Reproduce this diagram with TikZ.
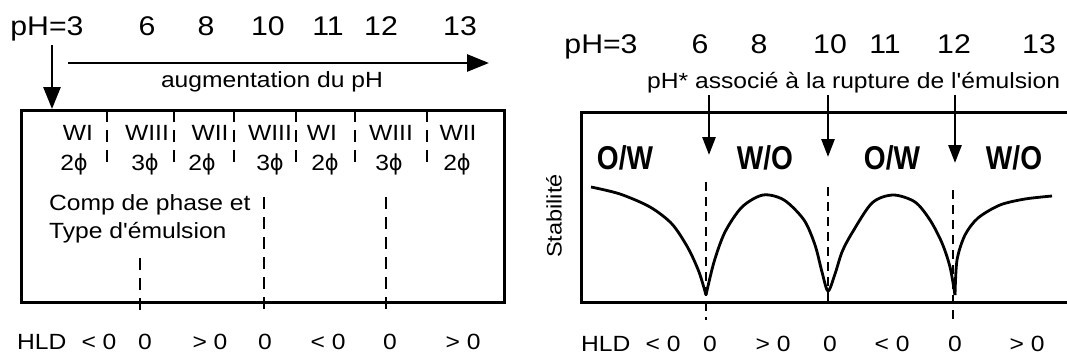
\documentclass[tikz,border=0pt]{standalone}
\usepackage{fontspec}
\newfontfamily\arialfont{Liberation Sans}[FakeStretch=1.12]
\newfontfamily\typefont{Liberation Sans}[FakeStretch=0.85]
\newfontfamily\grecfont{DejaVu Sans}[FakeStretch=0.95]
\usetikzlibrary{arrows.meta}

\tikzset{
    lbl/.style={inner sep=0pt, anchor=base, font=\arialfont\fontsize{22}{24}\selectfont},
    num/.style={inner sep=0pt, anchor=base, font=\arialfont\fontsize{27}{30}\selectfont},
    emu/.style={inner sep=0pt, anchor=base, font=\typefont\bfseries\fontsize{33}{36}\selectfont},
    cadre/.style={line width=3pt},
    sep/.style={line width=2.8pt, dash pattern=on 12pt off 8pt},
    fleche/.style={line width=2.8pt, -{Triangle[length=22pt,width=17pt]}},
    flechette/.style={line width=2.8pt, -{Triangle[length=18pt,width=13pt]}},
    courbe/.style={line width=2.8pt, line join=round},
}
\newcommand{\phase}{{\grecfont\char"03D5}}

\begin{document}
\begin{tikzpicture}[x=1pt, y=-1pt]
    \useasboundingbox (0,0) rectangle (1067,356);

    % -------------------------------
    % gauche : comportement de phase
    % -------------------------------
    \begin{scope}
        \node[num] (phA) at (47,35) {pH=3};
        \foreach \x/\v in {147/6, 206/8, 268/10, 328/11, 381/12, 460/13} {
            \node[num] (phA\v) at (\x,35) {\v};
        }

        % fleches du haut
        \coordinate (depart) at (52,45);
        \coordinate (entree) at (52,109);
        \draw[fleche] (depart) -- (entree);
        \coordinate (axeA) at (68,63);
        \coordinate (axeB) at (489,63);
        \draw[fleche] (axeA) -- (axeB);
        \node[lbl] (augm) at (272,87) {augmentation du pH};

        \draw[cadre] (21,110) rectangle (504,302);

        % separateurs courts
        \foreach \x in {107,174,234,296,355,427} {
            \draw[sep] (\x,110) -- (\x,167);
        }
        \foreach \x/\t [count=\i] in {78/WI, 147/WIII, 210/WII, 270/WIII, 322/WI, 391/WIII, 458/WII} {
            \node[lbl] (w\i) at (\x,140) {\t};
        }
        \foreach \x/\n [count=\i] in {74/2, 145/3, 202/2, 270/3, 325/2, 389/3, 457/2} {
            \node[lbl] (phi\i) at (\x,170) {\n\phase};
        }

        \node[lbl, anchor=base west] (comp) at (49,210) {Comp de phase et};
        \node[lbl, anchor=base west] (type) at (49,238) {Type d'émulsion};

        % HLD = 0
        \draw[sep] (140,258) -- (140,314);
        \draw[sep] (264,197) -- (264,314);
        \draw[sep] (386,197) -- (386,314);

        \node[lbl, anchor=base west] (hldA) at (17,349) {HLD};
        \foreach \x/\t [count=\i] in {99/{< 0}, 145/0, 210/{> 0}, 265/0, 328/{< 0}, 390/0, 463/{> 0}} {
            \node[lbl] (hA\i) at (\x,349) {\t};
        }
    \end{scope}


    % -------------------------------
    % droite : stabilite
    % -------------------------------
    \begin{scope}
        \foreach \x/\v in {601/pH=3, 700/6, 759/8, 830/10, 885/11, 954/12, 1039/13} {
            \node[num] (phB\v) at (\x,53) {\v};
        }
        \node[lbl, anchor=base west] (rupt) at (647,88) {pH* associé à la rupture de l'émulsion};

        \draw[cadre] (1067,112) -- (581,112) -- (581,302) -- (1067,302);

        % pH*
        \foreach \x/\y [count=\i] in {709/155, 828/157, 955/163} {
            \coordinate (haut\i) at (\x,95);
            \coordinate (bas\i) at (\x,\y);
            \draw[flechette] (haut\i) -- (bas\i);
        }

        \foreach \x/\t [count=\i] in {625/{O/W}, 765/{W/O}, 892/{O/W}, 1014/{W/O}} {
            \node[emu] (e\i) at (\x,169) {\t};
        }
        \node[lbl, rotate=90, anchor=center, font=\arialfont\fontsize{21}{24}\selectfont] (stab) at (554,216) {Stabilité};

        \draw[sep, dash pattern=on 9pt off 6pt] (706,182) -- (706,320);
        \draw[sep, dash pattern=on 9pt off 6pt] (828,187) -- (828,303);
        \draw[sep, dash pattern=on 9pt off 6pt] (953,190) -- (953,322);

        % courbe
        \draw[courbe] plot[smooth] coordinates {(591,187) (620,194) (650,207) (672,224) (688,248) (699,272) (706,295)};
        \draw[courbe] plot[smooth] coordinates {(706,295) (714,262) (725,232) (742,207) (763,195) (784,200)
            (804,220) (815,245) (822,272) (828,291) (835,274) (842,252) (852,233) (872,203) (893,195)
            (915,202) (930,220) (942,243) (950,267) (955,295)};
        \draw[courbe] plot[smooth] coordinates {(955,295) (957,260) (965,235) (978,218) (1000,205) (1025,199) (1052,196)};

        \node[lbl, anchor=base west] (hldB) at (581,351) {HLD};
        \foreach \x/\t [count=\i] in {663/{< 0}, 710/0, 773/{> 0}, 830/0, 892/{< 0}, 955/0, 1027/{> 0}} {
            \node[lbl] (hB\i) at (\x,351) {\t};
        }
    \end{scope}

\end{tikzpicture}
\end{document}
